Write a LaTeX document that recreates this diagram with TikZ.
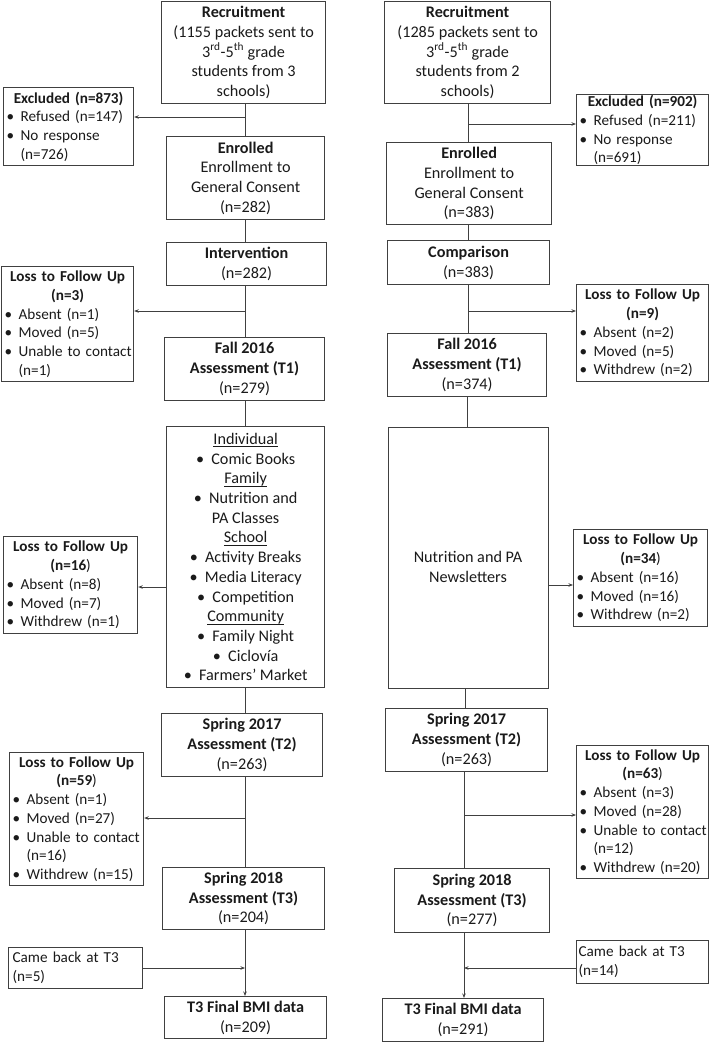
\documentclass[tikz,border=0pt]{standalone}
\usepackage{fontspec}
\setmainfont{Carlito}
\usetikzlibrary{arrows.meta}
\setlength{\parindent}{0pt}
\definecolor{edge}{HTML}{404040}
\definecolor{ink}{HTML}{1A1A1A}
\newcommand{\mainfs}{\fontsize{16.2}{19.7}\selectfont}
\newcommand{\sidefs}{\fontsize{15.2}{18.7}\selectfont}
% bullet lines in the side boxes: bullet, then text; \ind for wrapped lines
\newcommand{\bul}{\makebox[15pt][l]{\hspace{1pt}•}}
\newcommand{\ind}{\hspace*{15pt}}
% centred bullet in the intervention list
\newcommand{\cb}{•\hspace{0.45em}}
% underline at a fixed depth
\newcommand{\uln}[1]{\setbox0\hbox{#1}\rlap{\rule[-2.6pt]{\wd0}{0.8pt}}\box0}
% centred heading, then ragged-right lines below it
\newcommand{\sidetitle}[1]{{\centering #1\par}\raggedright\hyphenpenalty=10000 }
\tikzset{
  box/.style={draw=edge, line width=1.2pt, anchor=north west, inner sep=0pt,
    align=center, text=ink, font=\mainfs},
  side/.style={draw=edge, line width=1.2pt, anchor=north west, inner xsep=2pt,
    inner ysep=0pt, align=left, text=ink, font=\sidefs},
  conn/.style={draw=edge, line width=1pt},
  arr/.style={conn, -{Stealth[length=4.5pt,width=3.5pt]}},
}
\begin{document}
\begin{tikzpicture}[x=1pt,y=-1pt]
\useasboundingbox (0,0) rectangle (709,1042);

% ---------- intervention arm (left) ----------
\node[box, minimum width=164pt, minimum height=102pt] (recL) at (161,1)
  {\textbf{Recruitment}\\(1155 packets sent to\\3\textsuperscript{rd}-5\textsuperscript{th} grade\\students from 3\\schools)};
\node[box, minimum width=158pt, minimum height=83pt] (enrL) at (166,136)
  {\textbf{Enrolled}\\Enrollment to\\General Consent\\(n=282)};
\node[box, minimum width=160pt, minimum height=43pt] (intL) at (166,242)
  {\textbf{Intervention}\\(n=282)};
\node[box, minimum width=160pt, minimum height=63pt] (fallL) at (164,337)
  {\textbf{Fall 2016}\\\textbf{Assessment (T1)}\\(n=279)};
\node[box, minimum width=158pt, minimum height=261pt] (indL) at (166,426)
  {\uln{Individual}\\\cb Comic Books\\\uln{Family}\\\cb Nutrition and\\PA Classes\\\uln{School}\\\cb Activity Breaks\\\cb Media Literacy\\\cb Competition\\\uln{Community}\\\cb Family Night\\\cb Ciclovía\\\cb Farmers’ Market};
\node[box, minimum width=161pt, minimum height=63pt] (s17L) at (161,713)
  {\textbf{Spring 2017}\\\textbf{Assessment (T2)}\\(n=263)};
\node[box, minimum width=162pt, minimum height=62pt] (s18L) at (162,867)
  {\textbf{Spring 2018}\\\textbf{Assessment (T3)}\\(n=204)};
\node[box, minimum width=162pt, minimum height=42pt] (finL) at (164,996)
  {\textbf{T3 Final BMI data}\\(n=209)};

% ---------- comparison arm (right) ----------
\node[box, minimum width=166pt, minimum height=102pt] (recR) at (384,1)
  {\textbf{Recruitment}\\(1285 packets sent to\\3\textsuperscript{rd}-5\textsuperscript{th} grade\\students from 2\\schools)};
\node[box, minimum width=165pt, minimum height=82pt] (enrR) at (386,142)
  {\textbf{Enrolled}\\Enrollment to\\General Consent\\(n=383)};
\node[box, minimum width=162pt, minimum height=44pt] (cmpR) at (387,240)
  {\textbf{Comparison}\\(n=383)};
\node[box, minimum width=159pt, minimum height=63pt] (fallR) at (387,333)
  {\textbf{Fall 2016}\\\textbf{Assessment (T1)}\\(n=374)};
\node[box, minimum width=160pt, minimum height=261pt] (nutR) at (388,427) {};
\node[align=center, text=ink, font=\mainfs, inner sep=0pt] (nutT) at (468,567)
  {Nutrition and PA\\Newsletters};
\node[box, minimum width=162pt, minimum height=63pt] (s17R) at (385,708)
  {\textbf{Spring 2017}\\\textbf{Assessment (T2)}\\(n=263)};
\node[box, minimum width=155pt, minimum height=64pt] (s18R) at (394,868)
  {\textbf{Spring 2018}\\\textbf{Assessment (T3)}\\(n=277)};
\node[box, minimum width=161pt, minimum height=43pt] (finR) at (382,998)
  {\textbf{T3 Final BMI data}\\(n=291)};

% ---------- side boxes, left ----------
\node[side, text width=126pt, minimum height=78pt] (exL) at (3,87)
  {\sidetitle{\textbf{Excluded (n=873)}}\bul Refused (n=147)\\\bul No response\\\ind(n=726)};
\node[side, text width=128pt, minimum height=115pt] (l1L) at (1,266)
  {\sidetitle{\textbf{Loss to Follow Up}\\\textbf{(n=3)}}\bul Absent (n=1)\\\bul Moved (n=5)\\\bul \mbox{Unable to contact}\\\ind(n=1)};
\node[side, text width=130pt, minimum height=97pt] (l2L) at (3,536)
  {\sidetitle{\textbf{Loss to Follow Up}\\\textbf{(n=16})}\bul Absent (n=8)\\\bul Moved (n=7)\\\bul Withdrew (n=1)};
\node[side, text width=130pt, minimum height=133pt] (l3L) at (9,752)
  {\sidetitle{\textbf{Loss to Follow Up}\\\textbf{(n=59})}\bul Absent (n=1)\\\bul Moved (n=27)\\\bul \mbox{Unable to contact}\\\ind(n=16)\\\bul Withdrew (n=15)};
\node[side, text width=130pt, minimum height=41pt] (cbL) at (8,947)
  {\raggedright\hspace*{2pt}Came back at T3\\\hspace*{2pt}(n=5)};

% ---------- side boxes, right ----------
\node[side, text width=128pt, minimum height=71pt] (exR) at (576,94)
  {\sidetitle{\textbf{Excluded (n=902)}}\bul Refused (n=211)\\\bul No response\\\ind(n=691)};
\node[side, text width=128pt, minimum height=97pt] (l1R) at (576,284)
  {\sidetitle{\textbf{Loss to Follow Up}\\\textbf{(n=9)}}\bul Absent (n=2)\\\bul Moved (n=5)\\\bul Withdrew (n=2)};
\node[side, text width=130pt, minimum height=97pt] (l2R) at (573,529)
  {\sidetitle{\textbf{Loss to Follow Up}\\\textbf{(n=34})}\bul Absent (n=16)\\\bul Moved (n=16)\\\bul Withdrew (n=2)};
\node[side, text width=128pt, minimum height=133pt] (l3R) at (576,745)
  {\sidetitle{\textbf{Loss to Follow Up}\\\textbf{(n=63})}\bul Absent (n=3)\\\bul Moved (n=28)\\\bul \mbox{Unable to contact}\\\ind(n=12)\\\bul Withdrew (n=20)};
\node[side, text width=128pt, minimum height=43pt] (cbR) at (576,940)
  {\raggedright Came back at T3\\(n=14)};

% ---------- trunk lines ----------
\coordinate (xl) at (245,0);
\coordinate (xa) at (468,0);
\coordinate (xb) at (467,0);
\coordinate (xc) at (465,0);
\coordinate (xd) at (464,0);

\draw[conn] (recL.south -| xl) -- (enrL.north -| xl);
\draw[conn] (enrL.south -| xl) -- (intL.north -| xl);
\draw[conn] (intL.south -| xl) -- (fallL.north -| xl);
\draw[conn] (fallL.south -| xl) -- (indL.north -| xl);
\draw[conn] (indL.south -| xl) -- (s17L.north -| xl);
\draw[conn] (s17L.south -| xl) -- (s18L.north -| xl);
\draw[arr]  (s18L.south -| xl) -- (finL.north -| xl);

\draw[conn] (recR.south -| xa) -- (enrR.north -| xa);
\draw[conn] (enrR.south -| xa) -- (cmpR.north -| xa);
\draw[conn] (cmpR.south -| xa) -- (fallR.north -| xa);
\draw[conn] (fallR.south -| xb) -- (nutR.north -| xb);
\draw[conn] (nutR.south -| xc) -- (s17R.north -| xc);
\draw[conn] (s17R.south -| xd) -- (s18R.north -| xd);
\draw[arr]  (s18R.south -| xd) -- (finR.north -| xd);

% ---------- branches to the side boxes ----------
\coordinate (jL1) at (245,117);
\coordinate (jL2) at (245,311);
\coordinate (jL3) at (0,587);
\coordinate (jL4) at (245,818);
\coordinate (jL5) at (245,968);
\coordinate (jR1) at (468,124);
\coordinate (jR2) at (468,311);
\coordinate (jR3) at (0,585);
\coordinate (jR4) at (464,815);
\coordinate (jR5) at (464,968);

\draw[arr] (jL1) -- (exL.east |- jL1);
\draw[arr] (jL2) -- (l1L.east |- jL2);
\draw[arr] (indL.west |- jL3) -- (l2L.east |- jL3);
\draw[arr] (jL4) -- (l3L.east |- jL4);
\draw[arr] (cbL.east |- jL5) -- (jL5);

\draw[arr] (jR1) -- (exR.west |- jR1);
\draw[arr] (jR2) -- (l1R.west |- jR2);
\draw[arr] (nutR.east |- jR3) -- (l2R.west |- jR3);
\draw[arr] (jR4) -- (l3R.west |- jR4);
\draw[arr] (cbR.west |- jR5) -- (jR5);
\end{tikzpicture}
\end{document}
